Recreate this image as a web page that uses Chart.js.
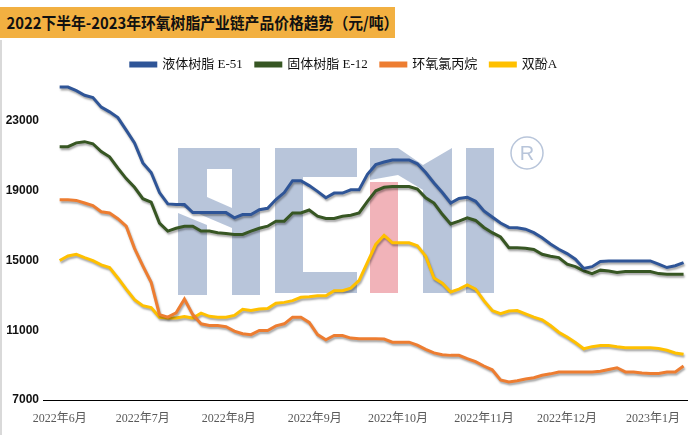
<!DOCTYPE html>
<html>
<head>
<meta charset="utf-8">
<script src="https://cdn.jsdelivr.net/npm/chart.js@4.4.1/dist/chart.umd.min.js"></script>
<style>
  html, body { margin: 0; padding: 0; background: #fff; }
  body { width: 688px; height: 435px; position: relative; overflow: hidden; }
  .title {
    position: absolute; left: 0; top: 7px; width: 395px; height: 31px;
    background: #F2B041;
    font: bold 16px "Noto Sans CJK SC", "Noto Sans", sans-serif;
    line-height: 31px; color: #111; white-space: nowrap;
  }
  .title span { display: inline-block; transform: scaleX(0.925); transform-origin: left center; padding-left: 7px; }
  .edge { position: absolute; left: 0; top: 40px; width: 2px; height: 395px; background: #d9d9d9; }
  .chart-box { position: absolute; left: 0; top: 45px; width: 688px; height: 390px; }
</style>
</head>
<body>
<div class="title"><span>2022下半年-2023年环氧树脂产业链产品价格趋势（元/吨）</span></div>
<div class="edge"></div>
<div class="chart-box"><canvas id="priceChart"></canvas></div>
<script>
// days counted from 2022-06-01, one sample every 3 days
const days = [0,3,6,9,12,15,18,21,24,27,30,33,36,39,42,45,48,51,54,57,60,63,66,69,72,75,78,81,84,87,90,93,96,99,102,105,108,111,114,117,120,123,126,129,132,135,138,141,144,147,150,153,156,159,162,165,168,171,174,177,180,183,186,189,192,195,198,201,204,207,210,213,216,219,222,225];

// 液体树脂 E-51
const e51 = [24950,24950,24750,24480,24350,23800,23530,23200,22480,21750,20600,20050,18900,18250,18210,18210,17750,17750,17750,17750,17750,17450,17640,17640,17920,18000,18500,18900,19580,19580,19300,18970,18600,18870,18870,19060,19060,19950,20500,20650,20770,20770,20770,20550,20050,19450,18900,18300,18560,18630,18400,17850,17500,17150,16900,16880,16800,16600,16310,15950,15650,15400,15080,14550,14650,14950,14980,14980,14980,14980,14980,14980,14800,14600,14700,14880];
// 固体树脂 E-12
const e12 = [21530,21530,21750,21820,21700,21250,20950,20300,19700,19200,18550,18350,17150,16690,16850,16970,16970,16690,16690,16600,16550,16500,16500,16690,16850,16970,17260,17260,17730,17730,17900,17550,17410,17410,17540,17600,17730,18400,19000,19200,19250,19250,19250,19100,18600,18300,17650,17100,17260,17450,17300,16900,16600,16350,15740,15740,15700,15640,15360,15250,15170,14790,14650,14410,14250,14450,14400,14310,14370,14370,14370,14370,14250,14220,14220,14220];
// 环氧氯丙烷
const ech = [18490,18490,18450,18300,18150,17800,17730,17400,16970,15700,14700,13750,11900,11750,12000,12790,11900,11370,11270,11270,11200,10950,10800,10750,10990,10990,11250,11370,11750,11750,11450,10750,10450,10700,10700,10550,10510,10510,10510,10500,10320,10320,10320,10150,9900,9700,9600,9560,9560,9370,9200,8950,8730,8150,8040,8100,8200,8280,8420,8500,8610,8610,8610,8610,8610,8650,8750,8850,8610,8610,8550,8520,8520,8600,8610,8950];
// 双酚A
const bpa = [15000,15260,15360,15170,15000,14750,14600,14000,13360,12750,12410,12300,11750,11710,11700,11790,11700,11980,11800,11750,11750,11850,12200,12130,12220,12250,12550,12600,12700,12890,12920,12980,12980,13270,13270,13420,13860,14900,15930,16450,16020,16020,16020,15850,15250,14000,13700,13200,13360,13600,13360,12700,12130,11950,12100,12130,11940,11750,11600,11270,10890,10610,10300,9940,10060,10130,10130,10050,10000,10000,10000,10000,9950,9850,9700,9620];

const monthDays = [0, 30, 61, 92, 122, 153, 183, 214];
const monthLabels = ['2022年6月','2022年7月','2022年8月','2022年9月','2022年10月','2022年11月','2022年12月','2023年1月'];
const yTicks = [7000, 11000, 15000, 19000, 23000];

const seriesNames = ['液体树脂 E-51', '固体树脂 E-12', '环氧氯丙烷', '双酚A'];
const seriesColors = ['#2F5597', '#375623', '#ED7D31', '#FFC000'];
const seriesValues = [e51, e12, ech, bpa];

// watermark logo behind the lines + soft shadow on the lines
const markPlugin = {
  id: 'mark',
  beforeDatasetsDraw(chart) {
    const ctx = chart.ctx;
    ctx.save();
    ctx.translate(0, -45);
    const blue = 'rgba(160,178,206,0.75)';
    const poly = (pts, color) => {
      ctx.fillStyle = color;
      ctx.beginPath();
      pts.forEach((p, i) => i ? ctx.lineTo(p[0], p[1]) : ctx.moveTo(p[0], p[1]));
      ctx.closePath();
      ctx.fill();
    };
    // R
    poly([[178,148],[260,148],[260,295],[232,295],[232,228],[178,205]], blue);
    poly([[207,169],[232,169],[232,208],[207,197]], '#fff');
    poly([[178,213],[207,225],[207,295],[178,295]], blue);
    // C
    poly([[275,148],[357,148],[357,177],[303,177],[303,272],[357,272],[357,293],[275,293]], blue);
    // M
    poly([[370,148],[398,148],[423,165],[452,148],[452,293],[423,293],[423,190],[398,175],[370,180]], blue);
    poly([[370,182],[398,182],[398,293],[370,293]], 'rgba(238,160,168,0.8)');
    // I
    poly([[466,148],[494,148],[494,293],[466,293]], blue);
    // registered sign
    ctx.strokeStyle = blue;
    ctx.lineWidth = 1.5;
    ctx.beginPath();
    ctx.arc(527, 153, 16, 0, Math.PI * 2);
    ctx.stroke();
    ctx.fillStyle = blue;
    ctx.font = '20px "Liberation Sans", sans-serif';
    ctx.textAlign = 'center';
    ctx.textBaseline = 'middle';
    ctx.fillText('R', 527, 154);
    ctx.restore();

    ctx.save();
    ctx.shadowColor = 'rgba(0,0,0,0.35)';
    ctx.shadowOffsetX = 1;
    ctx.shadowOffsetY = 2;
    ctx.shadowBlur = 2;
  },
  afterDatasetsDraw(chart) {
    chart.ctx.restore();
  }
};

const ctx = document.getElementById('priceChart').getContext('2d');
new Chart(ctx, {
  type: 'line',
  data: {
    datasets: seriesNames.map((name, k) => ({
      label: name,
      data: days.map((d, i) => ({ x: d, y: seriesValues[k][i] })),
      borderColor: seriesColors[k],
      backgroundColor: seriesColors[k],
      borderWidth: 3,
      pointRadius: 0,
      tension: 0,
      fill: false
    }))
  },
  options: {
    responsive: true,
    maintainAspectRatio: false,
    animation: false,
    layout: { padding: { left: 0, right: 0, top: 0, bottom: 0 } },
    plugins: {
      tooltip: { enabled: false },
      legend: {
        position: 'top',
        labels: {
          boxWidth: 25,
          boxHeight: 3,
          padding: 13,
          color: '#111',
          font: { size: 13, family: '"Liberation Serif", "Noto Sans CJK SC", serif' }
        }
      }
    },
    scales: {
      x: {
        type: 'linear',
        min: -6,
        max: 226.6,
        afterBuildTicks: (scale) => { scale.ticks = monthDays.map(v => ({ value: v })); },
        afterFit: (scale) => { scale.height = 35; },
        grid: { display: false },
        border: { display: true, color: '#000', width: 1 },
        ticks: {
          autoSkip: false,
          maxRotation: 0,
          padding: 4,
          color: '#595959',
          font: { size: 12, family: '"Liberation Serif", "Noto Sans CJK SC", serif' },
          callback: (v) => monthLabels[monthDays.indexOf(v)]
        }
      },
      y: {
        min: 7000,
        max: 25300,
        afterBuildTicks: (scale) => { scale.ticks = yTicks.map(v => ({ value: v })); },
        afterFit: (scale) => { scale.width = 43; },
        grid: { display: false },
        border: { display: false },
        ticks: {
          padding: -4,
          color: '#111',
          font: { size: 12, weight: 'bold', family: '"Liberation Sans", Arial, sans-serif' },
          callback: (v) => String(v)
        }
      }
    }
  },
  plugins: [markPlugin]
});
</script>
</body>
</html>
